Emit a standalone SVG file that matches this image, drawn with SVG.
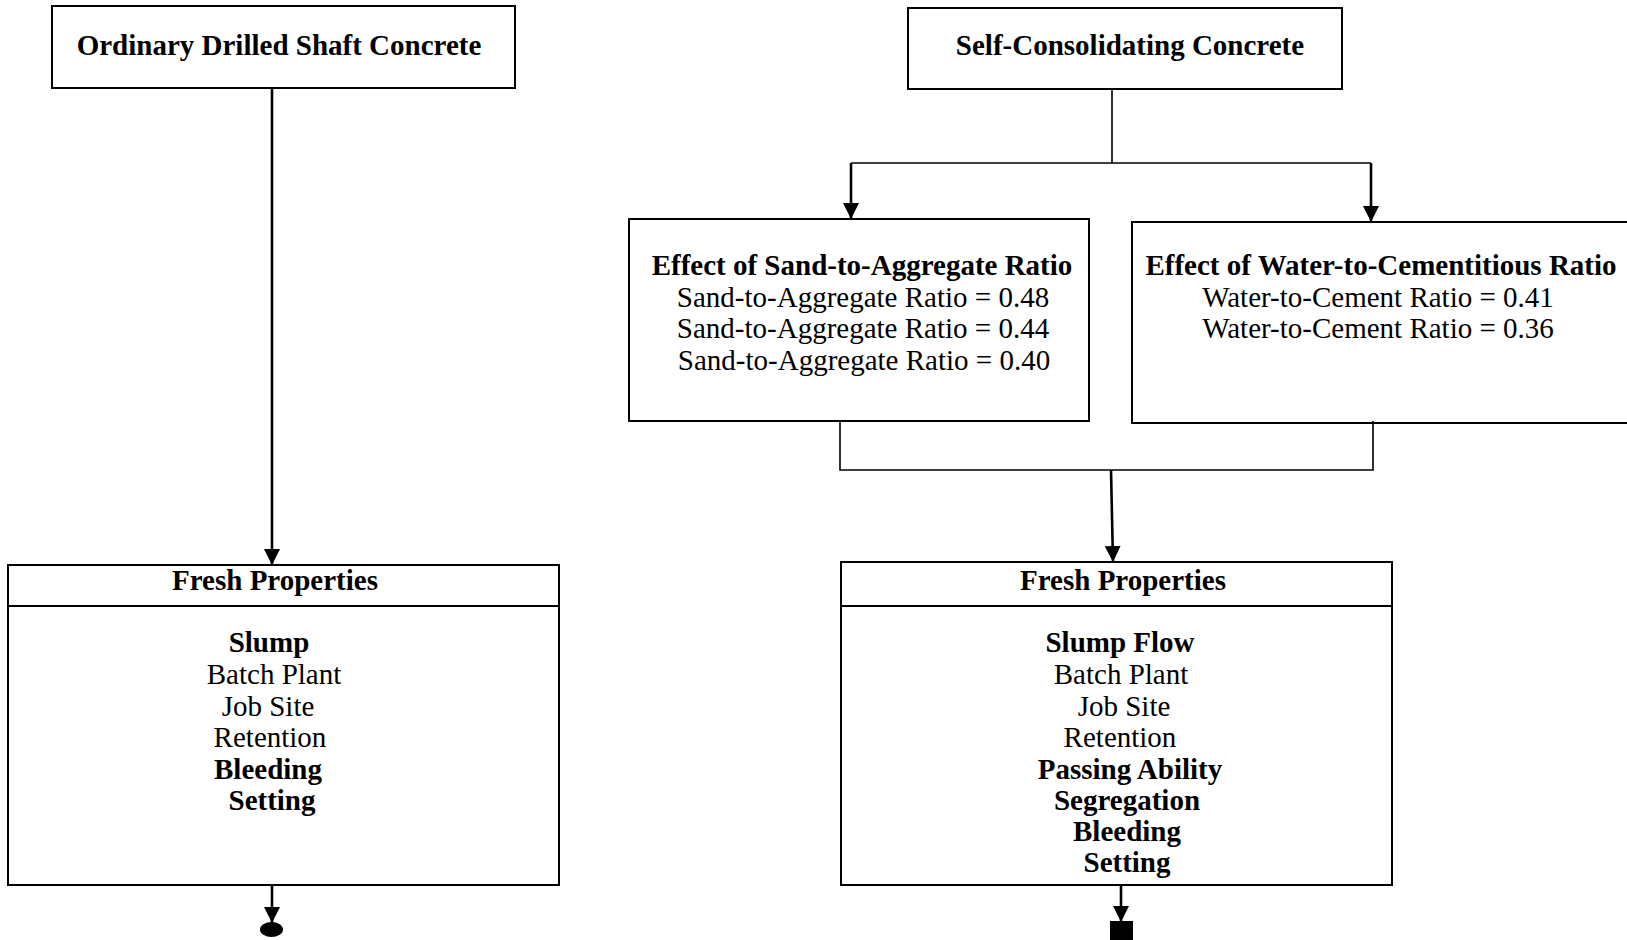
<svg xmlns="http://www.w3.org/2000/svg" width="1627" height="940" viewBox="0 0 1627 940">
<defs>
<style>
.box{fill:#fff;stroke:#000;stroke-width:2}
.t{font-family:"Liberation Serif","Times New Roman",serif;font-size:29px;fill:#000;text-anchor:middle}
.b{font-weight:bold}
.thin{fill:none;stroke:#000;stroke-width:1.6}
.thick{fill:none;stroke:#000;stroke-width:2.6}
</style>
<marker id="ah" markerUnits="userSpaceOnUse" markerWidth="18" markerHeight="16" refX="16" refY="8" orient="auto">
<path d="M0,0 L16,8 L0,16 Z" fill="#000"/>
</marker>
</defs>
<rect width="1627" height="940" fill="#fff"/>

<g id="ordinary">
<rect class="box" x="52" y="6" width="463" height="82"/>
<text class="t b" x="279" y="55">Ordinary Drilled Shaft Concrete</text>
</g>

<g id="scc">
<rect class="box" x="908" y="8" width="434" height="81"/>
<text class="t b" x="1130" y="55">Self-Consolidating Concrete</text>
</g>

<g id="sand">
<rect class="box" x="629" y="219" width="460" height="202"/>
<text class="t b" x="862" y="275">Effect of Sand-to-Aggregate Ratio</text>
<text class="t" x="863" y="307">Sand-to-Aggregate Ratio = 0.48</text>
<text class="t" x="863" y="338">Sand-to-Aggregate Ratio = 0.44</text>
<text class="t" x="864" y="370">Sand-to-Aggregate Ratio = 0.40</text>
</g>

<g id="water">
<rect class="box" x="1132" y="222" width="520" height="201"/>
<text class="t b" x="1381" y="275">Effect of Water-to-Cementitious Ratio</text>
<text class="t" x="1378" y="307">Water-to-Cement Ratio = 0.41</text>
<text class="t" x="1378" y="338">Water-to-Cement Ratio = 0.36</text>
</g>

<g id="fresh-left">
<rect class="box" x="8" y="565" width="551" height="320"/>
<line x1="8" y1="606" x2="559" y2="606" stroke="#000" stroke-width="2"/>
<text class="t b" x="275" y="590">Fresh Properties</text>
<text class="t b" x="269" y="652">Slump</text>
<text class="t" x="274" y="684">Batch Plant</text>
<text class="t" x="268" y="716">Job Site</text>
<text class="t" x="270" y="747">Retention</text>
<text class="t b" x="268" y="779">Bleeding</text>
<text class="t b" x="272" y="810">Setting</text>
</g>

<g id="fresh-right">
<rect class="box" x="841" y="562" width="551" height="323"/>
<line x1="841" y1="606" x2="1392" y2="606" stroke="#000" stroke-width="2"/>
<text class="t b" x="1123" y="590">Fresh Properties</text>
<text class="t b" x="1120" y="652">Slump Flow</text>
<text class="t" x="1121" y="684">Batch Plant</text>
<text class="t" x="1124" y="716">Job Site</text>
<text class="t" x="1120" y="747">Retention</text>
<text class="t b" x="1130" y="779">Passing Ability</text>
<text class="t b" x="1127" y="810">Segregation</text>
<text class="t b" x="1127" y="841">Bleeding</text>
<text class="t b" x="1127" y="872">Setting</text>
</g>

<g id="connectors">
<line class="thick" x1="272" y1="88" x2="272" y2="565" marker-end="url(#ah)"/>
<polyline class="thin" points="1112,89 1112,163"/>
<polyline class="thin" points="851,163 1371,163"/>
<line class="thick" x1="851" y1="163" x2="851" y2="219" marker-end="url(#ah)"/>
<line class="thick" x1="1371" y1="163" x2="1371" y2="222" marker-end="url(#ah)"/>
<polyline class="thin" points="840,421 840,470 1373,470 1373,421"/>
<line class="thick" x1="1111" y1="470" x2="1113" y2="562" marker-end="url(#ah)"/>
<line class="thick" x1="272" y1="885" x2="272" y2="923" marker-end="url(#ah)"/>
<ellipse cx="271.5" cy="929.5" rx="11.5" ry="7.5" fill="#000"/>
<line class="thick" x1="1121" y1="885" x2="1121" y2="922" marker-end="url(#ah)"/>
<rect x="1110" y="921" width="23" height="19" fill="#000"/>
</g>
</svg>
